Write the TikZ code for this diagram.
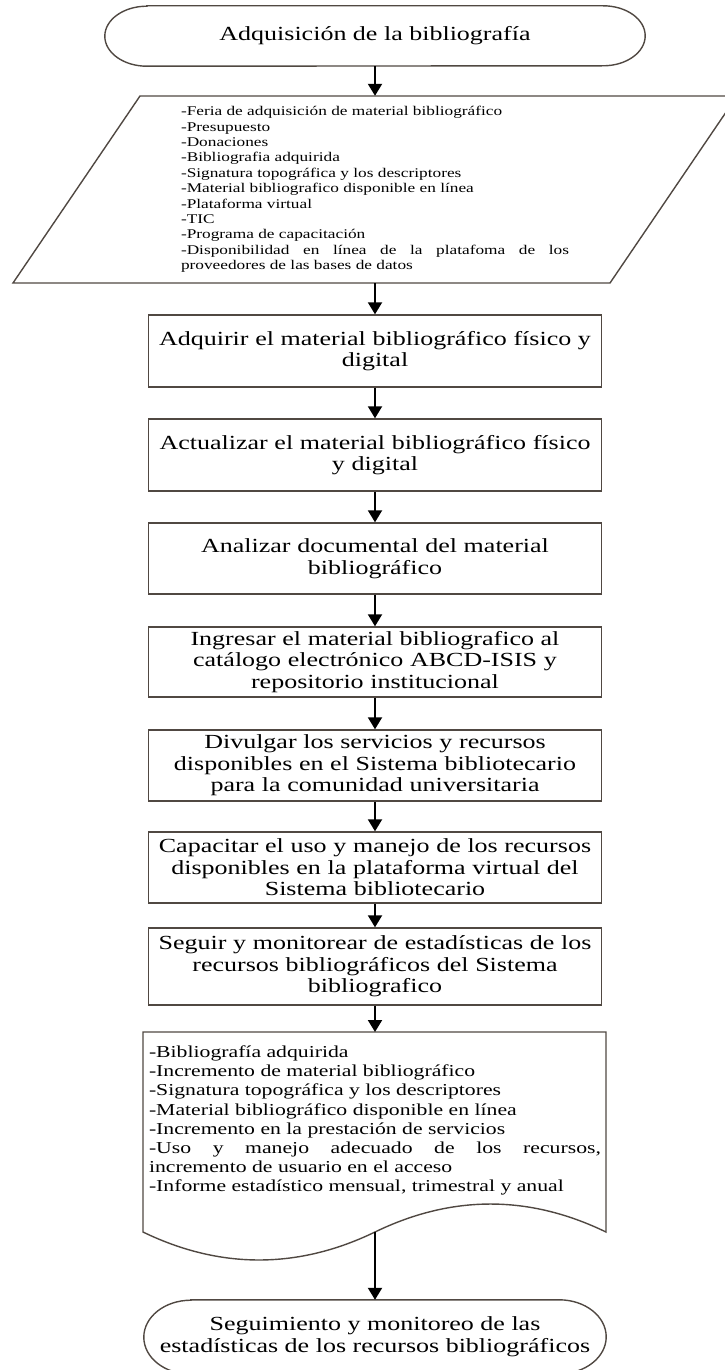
\documentclass[tikz,border=0pt]{standalone}
\usepackage{fontspec}
\setmainfont{Liberation Serif}[FakeStretch=1.3]
\usetikzlibrary{arrows.meta}
\definecolor{borde}{RGB}{80,72,66}

\tikzset{
  linea/.style={draw=borde, line width=1.4pt},
  caja/.style={linea, minimum width=453pt, text width=441pt, inner xsep=6pt, inner ysep=0pt,
    align=center, font=\fontsize{20}{21.5}\selectfont},
  flecha/.style={-{Triangle[length=12pt,width=14pt]}, line width=2pt, black}
}

\begin{document}
\begin{tikzpicture}[x=1pt, y=-1pt]
\useasboundingbox (0,0) rectangle (725,1370);
% Draw start terminal
\node[minimum width=540pt, minimum height=60pt, inner sep=0pt, font=\fontsize{20}{22}\selectfont] (inicio) at (375,36) {Adquisición de la bibliografía};
\draw[linea] ([xshift=42pt]inicio.north west) -- ([xshift=-42pt]inicio.north east)
  arc[start angle=90, end angle=-90, x radius=42pt, y radius=30pt]
  -- ([xshift=42pt]inicio.south west)
  arc[start angle=270, end angle=90, x radius=42pt, y radius=30pt] -- cycle;
% Draw input data
\node[text width=388pt, inner sep=0pt, minimum height=187pt, align=justify, font=\fontsize{13.3}{15.4}\selectfont] (entradas) at (375,189.5)
  {-Feria de adquisición de material bibliográfico\\
   -Presupuesto\\
   -Donaciones\\
   -Bibliografia adquirida\\
   -Signatura topográfica y los descriptores\\
   -Material bibliografico disponible en línea\\
   -Plataforma virtual\\
   -TIC\\
   -Programa de capacitación\\
   -Disponibilidad en línea de la platafoma de los\linebreak proveedores de las bases de datos};
\draw[linea] (140,96) -- (737,96) -- (610,283) -- (13,283) -- cycle;
% Draw process steps
\foreach \n/\y/\h/\txt in {
  1/351/72/{Adquirir el material bibliográfico físico y\\digital},
  2/455/72/{Actualizar el material bibliográfico físico\\y digital},
  3/558.5/71/{Analizar documental del material\\bibliográfico},
  4/662/70/{Ingresar el material bibliografico al\\catálogo electrónico ABCD-ISIS y\\repositorio institucional},
  5/765.5/71/{Divulgar los servicios y recursos\\disponibles en el Sistema bibliotecario\\para la comunidad universitaria},
  6/867.5/71/{Capacitar el uso y manejo de los recursos\\disponibles en la plataforma virtual del\\Sistema bibliotecario},
  7/966.5/77/{Seguir y monitorear de estadísticas de los\\recursos bibliográficos del Sistema\\bibliografico}}
  \node[caja, minimum height=\h pt] (paso\n) at (375,\y) {\txt};
% Draw output document
\node[anchor=north, text width=452pt, inner xsep=0pt, inner ysep=13.5pt, align=justify, font=\fontsize{16.7}{19.2}\selectfont] (salidas) at (375,1032)
  {-Bibliografía adquirida\\
   -Incremento de material bibliográfico\\
   -Signatura topográfica y los descriptores\\
   -Material bibliográfico disponible en línea\\
   -Incremento en la prestación de servicios\\
   -Uso y manejo adecuado de los recursos,\linebreak incremento de usuario en el acceso\\
   -Informe estadístico mensual, trimestral y anual};
\draw[linea] (143,1032) -- (606,1032) -- (606,1232)
  .. controls (529,1194.7) and (452,1194.7) .. (375,1232)
  .. controls (298,1269.3) and (220,1269.3) .. (143,1232) -- cycle;
\coordinate (salidasbase) at (375,1232);
% Draw end terminal
\node[minimum width=462pt, minimum height=74pt, inner sep=0pt, align=center, font=\fontsize{20}{21.7}\selectfont] (fin) at (375,1337)
  {Seguimiento y monitoreo de las\\estadísticas de los recursos bibliográficos};
\draw[linea] ([xshift=47pt]fin.north west) -- ([xshift=-47pt]fin.north east)
  arc[start angle=90, end angle=-90, x radius=47pt, y radius=37pt]
  -- ([xshift=47pt]fin.south west)
  arc[start angle=270, end angle=90, x radius=47pt, y radius=37pt] -- cycle;
% Draw arrows
\draw[flecha] (inicio.south) -- (entradas.north);
\draw[flecha] (entradas.south) -- (paso1.north);
\foreach \a [count=\b from 2] in {1,...,6}
  \draw[flecha] (paso\a.south) -- (paso\b.north);
\draw[flecha] (paso7.south) -- (salidas.north);
\draw[flecha] (salidasbase) -- (fin.north);
\end{tikzpicture}
\end{document}
